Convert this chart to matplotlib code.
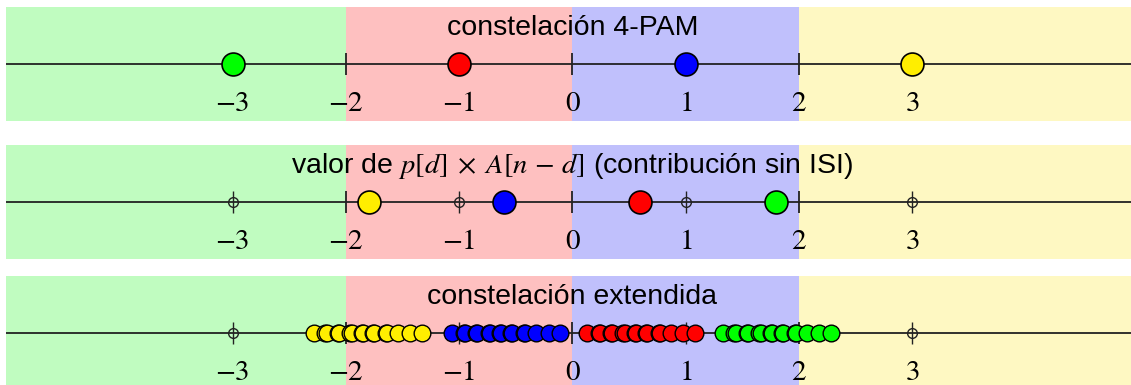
import matplotlib
matplotlib.use("Agg")
import matplotlib.pyplot as plt

plt.rcParams['font.family'] = ['Liberation Sans', 'DejaVu Sans']
plt.rcParams['mathtext.fontset'] = 'stix'

# decision regions
region_edges = [-5.0, -2.0, 0.0, 2.0, 5.0]
region_colors = ['#c0fcc0', '#fec0c0', '#c0c0fc', '#fef8c2']

# 4-PAM symbols and their colours
pam_levels = [-3, -1, 1, 3]
pam_colors = ['#00ff00', '#ff0000', '#0000ff', '#ffee00']

# p[d] x A[n-d] for each symbol (same order as pam_levels)
isi_free = [1.8, 0.6, -0.6, -1.8]

# extended constellation (ISI spread around each value)
ext_green = [1.33, 1.43, 1.44, 1.54, 1.55, 1.65, 1.66, 1.75, 1.76, 1.85, 1.86, 1.96, 1.97, 2.07, 2.18, 2.28]
ext_red = [0.13, 0.23, 0.24, 0.34, 0.35, 0.45, 0.46, 0.55, 0.56, 0.65, 0.66, 0.76, 0.77, 0.87, 0.98, 1.08]
ext_blue = [-1.06, -0.96, -0.95, -0.85, -0.84, -0.74, -0.73, -0.64, -0.63, -0.54, -0.53, -0.43, -0.42, -0.32, -0.21, -0.11]
ext_yellow = [-2.28, -2.18, -2.17, -2.07, -2.06, -1.96, -1.95, -1.86, -1.85, -1.76, -1.75, -1.65, -1.64, -1.54, -1.43, -1.33]
ext_points = [ext_green, ext_red, ext_blue, ext_yellow]

boundary_ticks = [-2, 0, 2]
level_ticks = [-3, -2, -1, 0, 1, 2, 3]
level_labels = ['$-3$', '$-2$', '$-1$', '$0$', '$1$', '$2$', '$3$']

titles = ['constelación 4-PAM',
          'valor de $p[d]\\;\\times\\;A[n\\,-\\,d]$ (contribución sin ISI)',
          'constelación extendida']

W, H = 1131, 385
fig = plt.figure(figsize=(W / 100, H / 100), dpi=100)

# panel boxes in pixels: (top, height)
panels = [(7, 114), (145, 114), (276, 114)]
axes = []
for top, h in panels:
    ax = fig.add_axes([6 / W, 1 - (top + h) / H, 1 - 6 / W, h / H])
    ax.set_xlim(-5.0, 4.93)
    ax.set_ylim(-1, 1)
    ax.axis('off')
    for i in range(len(region_colors)):
        ax.axvspan(region_edges[i], region_edges[i + 1], color=region_colors[i], lw=0, zorder=0)
    ax.axhline(0, color='#222222', lw=1.3, zorder=1)
    ax.plot(boundary_ticks, [0] * len(boundary_ticks), ls='none', marker='|', ms=16, mew=1.3,
            color='#222222', zorder=2)
    for x, lab in zip(level_ticks, level_labels):
        ax.text(x, -0.68, lab, ha='center', va='center', fontsize=21, zorder=3)
    axes.append(ax)

for ax, t in zip(axes, titles):
    ax.text(0, 0.64, t, ha='center', va='center', fontsize=20.5, zorder=5)

# small tick marks at odd levels (panels 2 and 3)
odd = [-3, -1, 1, 3]
for ax in axes[1:]:
    ax.plot(odd, [0] * 4, ls='none', marker='|', ms=16, mew=1.0, color='#222222', zorder=2)
    ax.plot(odd, [0] * 4, ls='none', marker='o', ms=7, mfc='none', mec='#222222', mew=1.0, zorder=2)

# panel 1: the constellation
for x, c in zip(pam_levels, pam_colors):
    axes[0].plot(x, 0, 'o', ms=16.5, mfc=c, mec='black', mew=1.2, zorder=4)

# panel 2: ISI-free contribution
for x, c in zip(isi_free, pam_colors):
    axes[1].plot(x, 0, 'o', ms=16.5, mfc=c, mec='black', mew=1.2, zorder=4)

# panel 3: extended constellation
for pts, c in zip(ext_points, pam_colors):
    for x in pts:
        axes[2].plot(x, 0, 'o', ms=12, mfc=c, mec='black', mew=1.0, zorder=4)

fig.savefig('out.png', dpi=100)
